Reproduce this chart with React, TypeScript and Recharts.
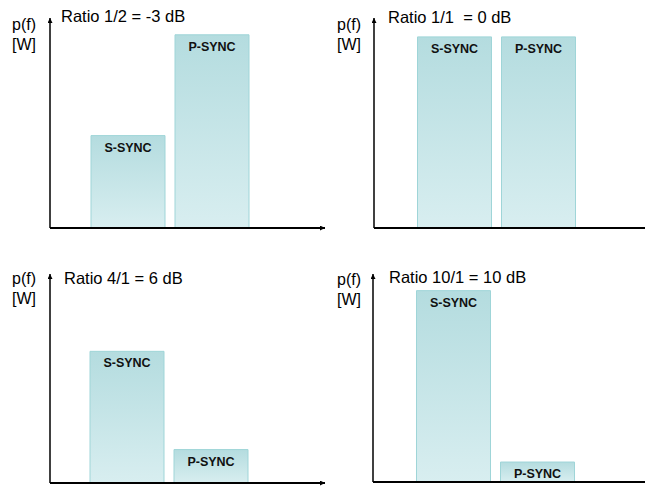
import { BarChart, Bar, XAxis, YAxis, LabelList } from 'recharts'

const categories = ['S-SYNC', 'P-SYNC']
const titles = ['Ratio 1/2 = -3 dB', 'Ratio 1/1  = 0 dB', 'Ratio 4/1 = 6 dB', 'Ratio 10/1 = 10 dB']
// relative power of each sync signal, in % of the drawn y axis
const ratioHalf = [44, 92]
const ratioOne = [91, 91]
const ratioFour = [63, 16]
const ratioTen = [92, 9.6]

const font = '"Liberation Sans", Arial, sans-serif'

// axes are 1px wide/high boxes, so the left and bottom margins are 1px short
const panels = [
  { values: ratioHalf, left: 0, top: 0, width: 330, height: 240, margin: { top: 18, right: 5, bottom: 11, left: 49 }, pad: { left: 36, right: 71 }, xArrow: true, titleX: 61, titleY: 8, unitX: 12, unitY: 14.5 },
  { values: ratioOne, left: 322, top: 0, width: 323, height: 240, margin: { top: 18, right: 0, bottom: 11, left: 51 }, pad: { left: 38.5, right: 64.5 }, xArrow: false, titleX: 388, titleY: 8.5, unitX: 337, unitY: 15 },
  { values: ratioFour, left: 0, top: 250, width: 330, height: 237, margin: { top: 24, right: 5, bottom: 3, left: 49 }, pad: { left: 35, right: 72 }, xArrow: true, titleX: 64, titleY: 269.5, unitX: 12, unitY: 268.5 },
  { values: ratioTen, left: 322, top: 250, width: 323, height: 237, margin: { top: 24, right: 0, bottom: 4, left: 50 }, pad: { left: 38.5, right: 65.5 }, xArrow: false, titleX: 389, titleY: 268.5, unitX: 337, unitY: 269.5 },
]

const BarLabel = (props: any) => {
  const { x, y, width, value } = props
  return (
    <text x={x + width / 2} y={y + 16} textAnchor="middle" fontFamily={font} fontSize={12.5} fontWeight="bold" fill="#111">
      {value}
    </text>
  )
}

const App = () => {
  return (
    <div style={{ position: 'absolute', left: 0, top: 0, width: 645, height: 487, overflow: 'hidden', background: '#fff', fontFamily: font }}>
      {panels.map((p, i) => {
        const data = categories.map((name, k) => ({ name, power: p.values[k] }))
        return (
          <div key={i}>
            <div style={{ position: 'absolute', left: p.left, top: p.top }}>
              <BarChart width={p.width} height={p.height} data={data} margin={p.margin}>
                <defs>
                  <linearGradient id={`fill-${i}`} x1="0" y1="0" x2="0" y2="1">
                    <stop offset="0%" stopColor="#b4dcdf" />
                    <stop offset="100%" stopColor="#d8eef0" />
                  </linearGradient>
                  <marker id={`arrow-${i}`} viewBox="0 0 10 10" refX="10" refY="5" markerUnits="userSpaceOnUse" markerWidth="7" markerHeight="5" orient="auto-start-reverse">
                    <path d="M0,0 L10,5 L0,10 z" fill="#000" />
                  </marker>
                </defs>
                <XAxis
                  dataKey="name"
                  height={1}
                  tick={false}
                  tickLine={false}
                  padding={p.pad}
                  axisLine={{ stroke: '#000', strokeWidth: 2, markerEnd: p.xArrow ? `url(#arrow-${i})` : undefined }}
                />
                <YAxis
                  domain={[0, 100]}
                  width={1}
                  tick={false}
                  tickLine={false}
                  axisLine={{ stroke: '#000', strokeWidth: 1.5, markerStart: `url(#arrow-${i})` }}
                />
                <Bar dataKey="power" barSize={74} fill={`url(#fill-${i})`} stroke="#9fd5d8" strokeWidth={1} isAnimationActive={false}>
                  <LabelList dataKey="name" content={BarLabel} />
                </Bar>
              </BarChart>
            </div>
            <div style={{ position: 'absolute', left: p.titleX, top: p.titleY, fontSize: 16.5, lineHeight: '16px', whiteSpace: 'pre', color: '#000' }}>
              {titles[i]}
            </div>
            <div style={{ position: 'absolute', left: p.unitX, top: p.unitY, fontSize: 16, lineHeight: '20px', color: '#000' }}>
              <div>p(f)</div>
              <div>[W]</div>
            </div>
          </div>
        )
      })}
    </div>
  )
}

export default App
